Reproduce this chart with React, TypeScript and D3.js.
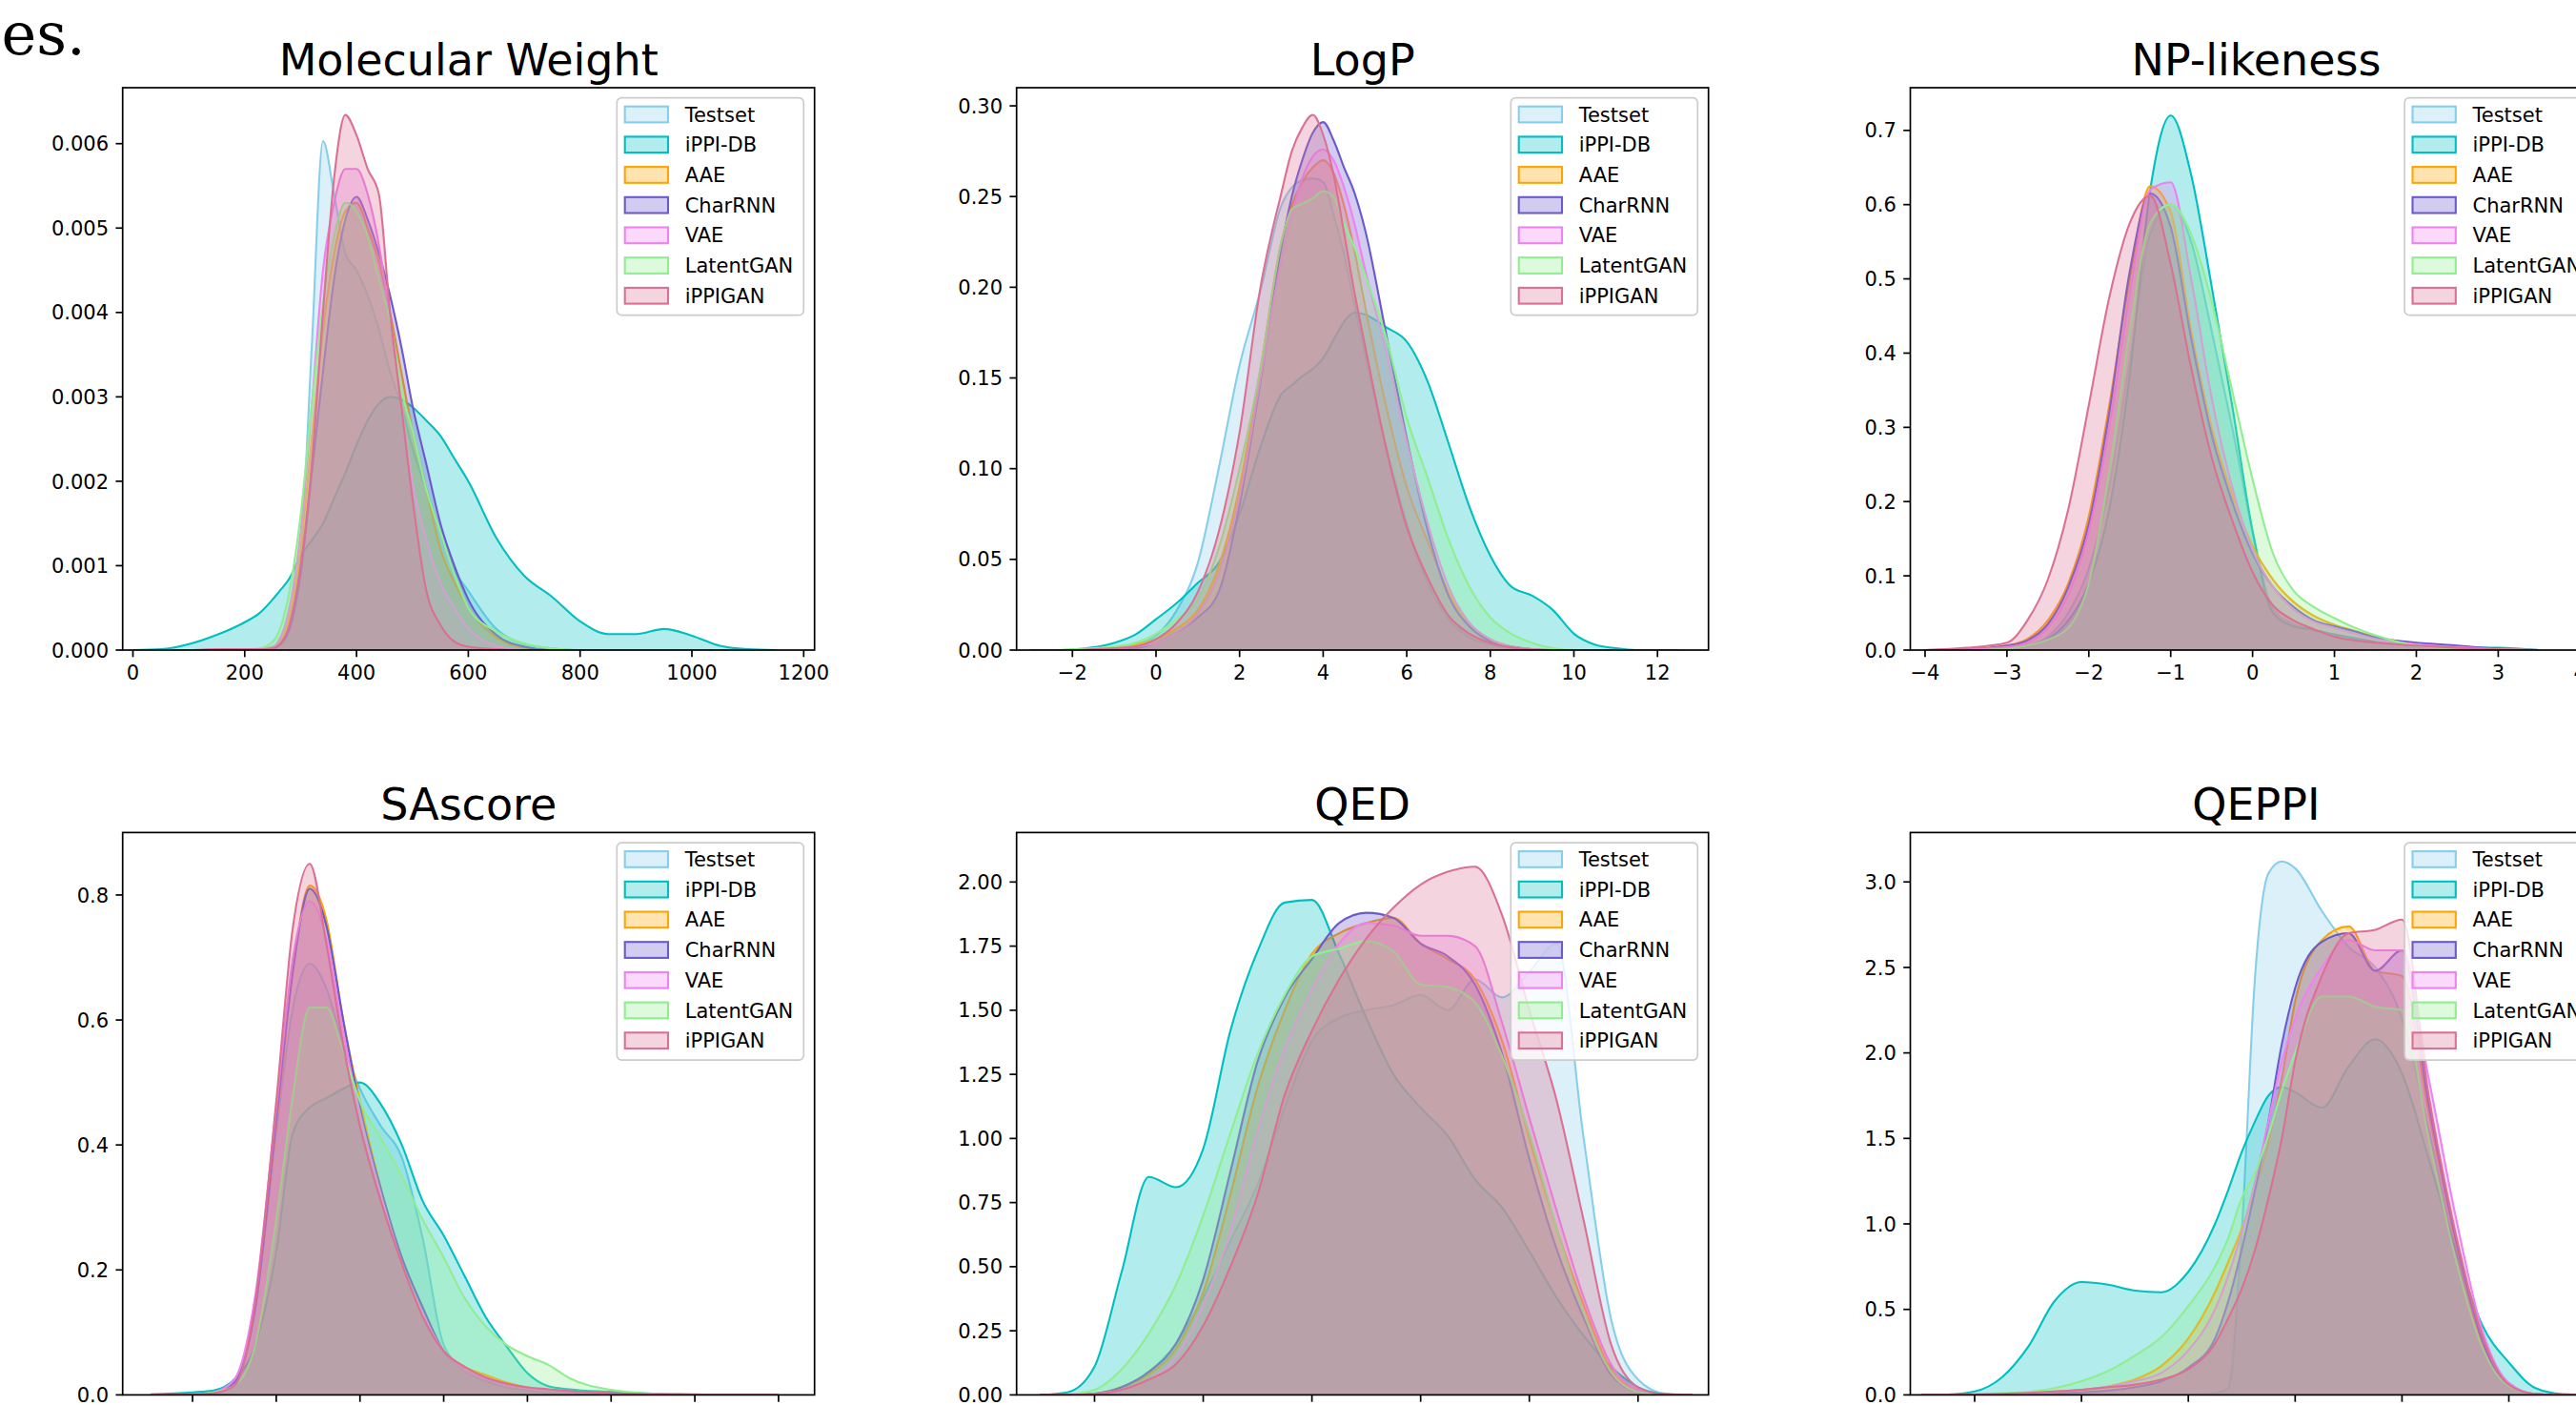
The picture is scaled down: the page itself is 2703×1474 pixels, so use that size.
import React from 'react';
import * as d3 from 'd3';

// ---------- series ----------
const SERIES = ['Testset', 'iPPI-DB', 'AAE', 'CharRNN', 'VAE', 'LatentGAN', 'iPPIGAN'];
const COLORS = ['#87ceeb', '#00bfbf', '#ffa500', '#6a5acd', '#ee82ee', '#90ee90', '#db7093'];

// ---------- Molecular Weight ----------
const mwGrid = [0, 50, 100, 150, 200, 225, 250, 260, 280, 300, 320, 340, 360, 380, 400, 420, 440, 460, 480, 500, 525, 550, 575, 600, 650, 700, 750, 800, 850, 900, 950, 1000, 1050, 1100, 1150];
const mwTestset = [0, 0, 0, 0, 0, 0.00001, 0.00004, 0.00008, 0.0003, 0.0011, 0.0036, 0.00603, 0.0054, 0.0047, 0.0045, 0.0042, 0.0038, 0.0033, 0.0029, 0.0024, 0.0019, 0.0014, 0.00095, 0.0007, 0.00025, 0.00007, 0.00002, 0, 0, 0, 0, 0, 0, 0, 0];
const mwIppidb = [0, 0.00001, 0.00007, 0.00018, 0.00033, 0.00043, 0.0006, 0.00068, 0.00085, 0.00112, 0.0013, 0.0015, 0.0018, 0.0021, 0.00243, 0.00272, 0.00292, 0.003, 0.00297, 0.00288, 0.00272, 0.00254, 0.00227, 0.002, 0.00133, 0.00088, 0.00063, 0.00034, 0.00019, 0.00019, 0.00025, 0.00017, 0.00005, 0.00001, 0];
const mwAae = [0, 0, 0, 0, 0, 0.00001, 0.00003, 0.00008, 0.0004, 0.0012, 0.0025, 0.0038, 0.0047, 0.0052, 0.0053, 0.005, 0.0046, 0.004, 0.0033, 0.0026, 0.0019, 0.0012, 0.0008, 0.0005, 0.00015, 0.00003, 0, 0, 0, 0, 0, 0, 0, 0, 0];
const mwCharrnn = [0, 0, 0, 0, 0, 0, 0.00002, 0.00005, 0.00025, 0.0009, 0.0021, 0.0033, 0.0044, 0.0051, 0.00537, 0.0051, 0.0047, 0.0042, 0.0036, 0.0029, 0.0022, 0.0015, 0.001, 0.0006, 0.00018, 0.00004, 0, 0, 0, 0, 0, 0, 0, 0, 0];
const mwVae = [0, 0, 0, 0, 0, 0.00001, 0.00003, 0.0001, 0.0005, 0.0014, 0.0029, 0.0045, 0.0053, 0.0057, 0.0057, 0.0054, 0.0048, 0.0039, 0.0029, 0.002, 0.0013, 0.0008, 0.0005, 0.00026, 0.00005, 0, 0, 0, 0, 0, 0, 0, 0, 0, 0];
const mwLatentgan = [0, 0, 0, 0, 0.00001, 0.00002, 0.0001, 0.0002, 0.0007, 0.0016, 0.0029, 0.0041, 0.0049, 0.0053, 0.0052, 0.0049, 0.0044, 0.0039, 0.0031, 0.0026, 0.0019, 0.0014, 0.0009, 0.0005, 0.00022, 0.00008, 0.00002, 0, 0, 0, 0, 0, 0, 0, 0];
const mwIppigan = [0, 0, 0, 0.00001, 0.00001, 0.00001, 0.00002, 0.00005, 0.0003, 0.001, 0.0022, 0.004, 0.0056, 0.00634, 0.0061, 0.0057, 0.0054, 0.004, 0.0029, 0.0018, 0.0007, 0.0003, 0.0001, 0.00004, 0.00001, 0, 0, 0, 0, 0, 0, 0, 0, 0, 0];

// ---------- LogP ----------
const logpGrid = [-3, -2.5, -2, -1.5, -1, -0.5, 0, 0.5, 1, 1.5, 2, 2.5, 3, 3.25, 3.5, 3.75, 4, 4.25, 4.5, 4.75, 5, 5.5, 6, 6.5, 7, 7.5, 8, 8.5, 9, 9.5, 10, 10.5, 11, 11.5, 12, 12.5];
const logpTestset = [0, 0, 0, 0.0003, 0.001, 0.003, 0.008, 0.022, 0.048, 0.1, 0.157, 0.198, 0.245, 0.255, 0.259, 0.26, 0.258, 0.24, 0.218, 0.19, 0.163, 0.113, 0.07, 0.037, 0.017, 0.007, 0.003, 0.001, 0, 0, 0, 0, 0, 0, 0, 0];
const logpIppidb = [0, 0, 0.0003, 0.0015, 0.004, 0.0085, 0.017, 0.026, 0.037, 0.048, 0.075, 0.112, 0.141, 0.146, 0.151, 0.155, 0.161, 0.171, 0.181, 0.186, 0.185, 0.178, 0.17, 0.148, 0.114, 0.079, 0.052, 0.035, 0.03, 0.022, 0.009, 0.003, 0.001, 0, 0, 0];
const logpAae = [0, 0, 0, 0.0005, 0.001, 0.003, 0.006, 0.012, 0.022, 0.046, 0.09, 0.155, 0.225, 0.245, 0.258, 0.266, 0.27, 0.263, 0.245, 0.22, 0.19, 0.135, 0.09, 0.06, 0.032, 0.014, 0.006, 0.002, 0.0005, 0, 0, 0, 0, 0, 0, 0];
const logpCharrnn = [0, 0, 0, 0, 0.0005, 0.001, 0.004, 0.01, 0.018, 0.032, 0.08, 0.148, 0.222, 0.25, 0.27, 0.285, 0.291, 0.281, 0.266, 0.252, 0.232, 0.175, 0.117, 0.066, 0.03, 0.013, 0.005, 0.002, 0.0005, 0, 0, 0, 0, 0, 0, 0];
const logpVae = [0, 0, 0, 0.0003, 0.001, 0.002, 0.004, 0.01, 0.02, 0.042, 0.085, 0.15, 0.215, 0.24, 0.26, 0.272, 0.276, 0.27, 0.255, 0.235, 0.21, 0.165, 0.115, 0.07, 0.035, 0.015, 0.006, 0.002, 0.0005, 0, 0, 0, 0, 0, 0, 0];
const logpLatentgan = [0, 0, 0.0005, 0.001, 0.002, 0.004, 0.009, 0.017, 0.028, 0.056, 0.1, 0.155, 0.225, 0.243, 0.246, 0.249, 0.253, 0.25, 0.235, 0.222, 0.207, 0.173, 0.128, 0.095, 0.061, 0.035, 0.018, 0.009, 0.004, 0.001, 0, 0, 0, 0, 0, 0];
const logpIppigan = [0, 0, 0, 0.0005, 0.001, 0.002, 0.006, 0.015, 0.032, 0.065, 0.12, 0.2, 0.252, 0.275, 0.288, 0.295, 0.284, 0.262, 0.23, 0.197, 0.168, 0.112, 0.068, 0.04, 0.019, 0.009, 0.004, 0.0015, 0.0003, 0, 0, 0, 0, 0, 0, 0];

// ---------- NP-likeness ----------
const npGrid = [-4, -3.5, -3, -2.75, -2.5, -2.25, -2, -1.75, -1.5, -1.25, -1, -0.75, -0.5, -0.25, 0, 0.25, 0.5, 0.75, 1, 1.25, 1.5, 2, 2.5, 3, 3.5];
const npTestset = [0, 0, 0.002, 0.006, 0.018, 0.05, 0.11, 0.22, 0.39, 0.56, 0.6, 0.55, 0.43, 0.3, 0.16, 0.055, 0.035, 0.027, 0.02, 0.015, 0.011, 0.006, 0.003, 0.001, 0];
const npIppidb = [0, 0, 0.002, 0.006, 0.015, 0.04, 0.09, 0.19, 0.37, 0.62, 0.72, 0.64, 0.49, 0.33, 0.16, 0.05, 0.032, 0.027, 0.021, 0.016, 0.011, 0.006, 0.004, 0.003, 0];
const npAae = [0, 0.001, 0.006, 0.015, 0.04, 0.09, 0.18, 0.33, 0.5, 0.625, 0.59, 0.43, 0.3, 0.21, 0.14, 0.095, 0.065, 0.046, 0.034, 0.026, 0.018, 0.009, 0.004, 0.001, 0];
const npCharrnn = [0, 0.001, 0.006, 0.013, 0.035, 0.085, 0.17, 0.32, 0.51, 0.615, 0.57, 0.42, 0.29, 0.2, 0.13, 0.085, 0.058, 0.04, 0.032, 0.025, 0.017, 0.01, 0.006, 0.002, 0];
const npVae = [0, 0.001, 0.004, 0.01, 0.03, 0.075, 0.16, 0.3, 0.48, 0.62, 0.63, 0.5, 0.34, 0.22, 0.135, 0.085, 0.055, 0.038, 0.03, 0.022, 0.015, 0.008, 0.004, 0.001, 0];
const npLatentgan = [0, 0, 0.002, 0.006, 0.014, 0.03, 0.09, 0.24, 0.43, 0.575, 0.6, 0.56, 0.47, 0.35, 0.23, 0.13, 0.08, 0.058, 0.043, 0.03, 0.02, 0.006, 0.002, 0.001, 0];
const npIppigan = [0, 0.003, 0.01, 0.04, 0.095, 0.19, 0.33, 0.475, 0.575, 0.612, 0.52, 0.38, 0.26, 0.175, 0.105, 0.06, 0.04, 0.028, 0.018, 0.013, 0.01, 0.006, 0.003, 0.001, 0];

// ---------- SAscore ----------
const saGrid = [0.5, 1, 1.25, 1.5, 1.75, 2, 2.2, 2.4, 2.6, 2.8, 3, 3.25, 3.5, 3.75, 4, 4.25, 4.5, 4.75, 5, 5.25, 5.5, 6, 6.5, 7, 7.5, 8];
const saTestset = [0, 0.001, 0.003, 0.02, 0.14, 0.42, 0.62, 0.69, 0.65, 0.56, 0.49, 0.43, 0.38, 0.25, 0.08, 0.04, 0.022, 0.012, 0.007, 0.004, 0.003, 0.001, 0, 0, 0, 0];
const saIppidb = [0.001, 0.004, 0.007, 0.025, 0.08, 0.23, 0.42, 0.46, 0.475, 0.49, 0.5, 0.465, 0.4, 0.31, 0.255, 0.19, 0.125, 0.078, 0.035, 0.014, 0.009, 0.005, 0.002, 0.001, 0, 0];
const saAae = [0, 0.001, 0.003, 0.02, 0.14, 0.43, 0.68, 0.815, 0.76, 0.6, 0.47, 0.33, 0.21, 0.13, 0.07, 0.045, 0.032, 0.02, 0.012, 0.008, 0.005, 0.002, 0.001, 0, 0, 0];
const saCharrnn = [0, 0.001, 0.003, 0.02, 0.14, 0.44, 0.68, 0.81, 0.75, 0.6, 0.46, 0.33, 0.22, 0.14, 0.07, 0.04, 0.025, 0.016, 0.01, 0.008, 0.006, 0.003, 0.001, 0, 0, 0];
const saVae = [0, 0.001, 0.004, 0.025, 0.16, 0.46, 0.7, 0.79, 0.73, 0.58, 0.45, 0.32, 0.21, 0.13, 0.07, 0.04, 0.025, 0.015, 0.01, 0.007, 0.005, 0.002, 0.001, 0, 0, 0];
const saLatentgan = [0, 0.001, 0.004, 0.015, 0.08, 0.28, 0.48, 0.62, 0.62, 0.55, 0.47, 0.41, 0.35, 0.28, 0.22, 0.155, 0.11, 0.08, 0.062, 0.048, 0.027, 0.008, 0.002, 0, 0, 0];
const saIppigan = [0, 0.001, 0.003, 0.015, 0.15, 0.47, 0.75, 0.85, 0.72, 0.56, 0.43, 0.31, 0.21, 0.125, 0.07, 0.045, 0.028, 0.018, 0.012, 0.009, 0.006, 0.003, 0.001, 0, 0, 0];

// ---------- QED ----------
const qedGrid = [-0.1, -0.05, 0, 0.05, 0.1, 0.15, 0.2, 0.25, 0.3, 0.35, 0.4, 0.45, 0.5, 0.55, 0.6, 0.65, 0.7, 0.75, 0.8, 0.85, 0.9, 0.95, 1, 1.05, 1.1];
const qedTestset = [0, 0, 0.005, 0.03, 0.09, 0.2, 0.38, 0.6, 0.82, 1.12, 1.38, 1.47, 1.5, 1.52, 1.56, 1.5, 1.62, 1.55, 1.65, 1.76, 1.0, 0.3, 0.06, 0.005, 0];
const qedIppidb = [0, 0.01, 0.11, 0.48, 0.85, 0.81, 0.96, 1.42, 1.73, 1.92, 1.93, 1.72, 1.47, 1.25, 1.12, 1.01, 0.84, 0.73, 0.56, 0.38, 0.23, 0.11, 0.03, 0.003, 0];
const qedAae = [0, 0, 0.005, 0.03, 0.08, 0.18, 0.4, 0.78, 1.2, 1.5, 1.72, 1.8, 1.84, 1.86, 1.76, 1.7, 1.62, 1.38, 1.0, 0.65, 0.35, 0.1, 0.015, 0, 0];
const qedCharrnn = [0, 0, 0.005, 0.03, 0.09, 0.2, 0.45, 0.87, 1.3, 1.55, 1.7, 1.84, 1.88, 1.86, 1.76, 1.71, 1.6, 1.33, 0.92, 0.57, 0.3, 0.08, 0.012, 0, 0];
const qedVae = [0, 0, 0.004, 0.02, 0.06, 0.15, 0.35, 0.64, 1.03, 1.35, 1.58, 1.76, 1.84, 1.83, 1.79, 1.79, 1.75, 1.45, 1.08, 0.72, 0.38, 0.12, 0.02, 0, 0];
const qedLatentgan = [0, 0.002, 0.02, 0.1, 0.24, 0.43, 0.7, 1.02, 1.33, 1.56, 1.71, 1.74, 1.77, 1.73, 1.6, 1.59, 1.53, 1.32, 1.02, 0.65, 0.32, 0.09, 0.012, 0, 0];
const qedIppigan = [0, 0, 0.003, 0.02, 0.06, 0.12, 0.27, 0.5, 0.78, 1.17, 1.42, 1.62, 1.78, 1.9, 1.99, 2.04, 2.06, 1.87, 1.5, 1.15, 0.68, 0.2, 0.03, 0.002, 0];

// ---------- QEPPI ----------
const qeppiGrid = [-0.1, -0.05, 0, 0.05, 0.1, 0.15, 0.2, 0.25, 0.3, 0.35, 0.4, 0.45, 0.475, 0.5, 0.525, 0.55, 0.575, 0.6, 0.65, 0.7, 0.75, 0.8, 0.85, 0.9, 0.95, 1, 1.05, 1.1, 1.15];
const qeppiTestset = [0, 0, 0, 0, 0, 0, 0, 0, 0, 0, 0, 0.01, 0.04, 0.95, 2.45, 3.05, 3.12, 3.08, 2.83, 2.62, 2.5, 2.2, 1.55, 0.85, 0.32, 0.07, 0.005, 0, 0];
const qeppiIppidb = [0, 0.002, 0.02, 0.1, 0.28, 0.55, 0.66, 0.645, 0.61, 0.6, 0.72, 1.0, 1.2, 1.42, 1.6, 1.75, 1.8, 1.77, 1.68, 1.92, 2.08, 1.88, 1.38, 0.85, 0.41, 0.19, 0.04, 0.005, 0];
const qeppiAae = [0, 0, 0.002, 0.006, 0.012, 0.02, 0.03, 0.05, 0.09, 0.17, 0.33, 0.6, 0.78, 0.97, 1.2, 1.48, 1.85, 2.3, 2.66, 2.74, 2.48, 2.45, 1.65, 0.9, 0.3, 0.05, 0.005, 0, 0];
const qeppiCharrnn = [0, 0, 0, 0.002, 0.005, 0.01, 0.015, 0.025, 0.045, 0.08, 0.16, 0.33, 0.55, 0.85, 1.2, 1.6, 2.05, 2.38, 2.65, 2.7, 2.48, 2.6, 1.7, 0.92, 0.32, 0.05, 0.005, 0, 0];
const qeppiVae = [0, 0, 0.002, 0.005, 0.01, 0.018, 0.03, 0.05, 0.08, 0.13, 0.26, 0.5, 0.7, 0.95, 1.25, 1.6, 1.95, 2.2, 2.5, 2.66, 2.6, 2.6, 1.85, 1.05, 0.38, 0.07, 0.005, 0, 0];
const qeppiLatentgan = [0, 0, 0.003, 0.01, 0.018, 0.04, 0.08, 0.14, 0.23, 0.34, 0.52, 0.75, 0.92, 1.15, 1.3, 1.52, 1.78, 2.0, 2.33, 2.33, 2.27, 2.25, 1.5, 0.8, 0.28, 0.05, 0.004, 0, 0];
const qeppiIppigan = [0, 0, 0.002, 0.006, 0.012, 0.02, 0.03, 0.045, 0.06, 0.09, 0.15, 0.3, 0.45, 0.62, 0.85, 1.15, 1.5, 1.95, 2.45, 2.7, 2.72, 2.78, 1.75, 0.95, 0.35, 0.06, 0.005, 0, 0];

// ---------- ticks ----------
const mwXTicks = [0, 200, 400, 600, 800, 1000, 1200];
const mwYTicks = [0, 0.001, 0.002, 0.003, 0.004, 0.005, 0.006];
const logpXTicks = [-2, 0, 2, 4, 6, 8, 10, 12];
const logpYTicks = [0, 0.05, 0.1, 0.15, 0.2, 0.25, 0.3];
const npXTicks = [-4, -3, -2, -1, 0, 1, 2, 3, 4];
const npYTicks = [0, 0.1, 0.2, 0.3, 0.4, 0.5, 0.6, 0.7];
const saXTicks = [1, 2, 3, 4, 5, 6, 7, 8];
const saYTicks = [0, 0.2, 0.4, 0.6, 0.8];
const qedXTicks = [0, 0.2, 0.4, 0.6, 0.8, 1.0];
const qedYTicks = [0, 0.25, 0.5, 0.75, 1.0, 1.25, 1.5, 1.75, 2.0];
const qeppiXTicks = [0, 0.2, 0.4, 0.6, 0.8, 1.0];
const qeppiYTicks = [0, 0.5, 1.0, 1.5, 2.0, 2.5, 3.0];

// ---------- layout ----------
const W = 2703;
const H = 1474;
const AX_W = 726;
const AX_H = 590;
const COL_X = [128.7, 1066.7, 2004.5];
const ROW_Y = [92, 873.4];
const FONT = 'DejaVu Sans, sans-serif';

interface PanelDef {
  title: string;
  grid: number[];
  values: number[][];
  xDomain: [number, number];
  yMax: number;
  xTicks: number[];
  xFmt: string;
  yTicks: number[];
  yFmt: string;
  col: number;
  row: number;
}

const PANELS: PanelDef[] = [
  { title: 'Molecular Weight', grid: mwGrid, values: [mwTestset, mwIppidb, mwAae, mwCharrnn, mwVae, mwLatentgan, mwIppigan], xDomain: [-18.4, 1219.4], yMax: 0.006663, xTicks: mwXTicks, xFmt: 'd', yTicks: mwYTicks, yFmt: '.3f', col: 0, row: 0 },
  { title: 'LogP', grid: logpGrid, values: [logpTestset, logpIppidb, logpAae, logpCharrnn, logpVae, logpLatentgan, logpIppigan], xDomain: [-3.336, 13.22], yMax: 0.31, xTicks: logpXTicks, xFmt: 'd', yTicks: logpYTicks, yFmt: '.2f', col: 1, row: 0 },
  { title: 'NP-likeness', grid: npGrid, values: [npTestset, npIppidb, npAae, npCharrnn, npVae, npLatentgan, npIppigan], xDomain: [-4.18, 4.27], yMax: 0.7575, xTicks: npXTicks, xFmt: 'd', yTicks: npYTicks, yFmt: '.1f', col: 2, row: 0 },
  { title: 'SAscore', grid: saGrid, values: [saTestset, saIppidb, saAae, saCharrnn, saVae, saLatentgan, saIppigan], xDomain: [0.165, 8.43], yMax: 0.9, xTicks: saXTicks, xFmt: 'd', yTicks: saYTicks, yFmt: '.1f', col: 0, row: 1 },
  { title: 'QED', grid: qedGrid, values: [qedTestset, qedIppidb, qedAae, qedCharrnn, qedVae, qedLatentgan, qedIppigan], xDomain: [-0.1434, 1.1296], yMax: 2.193, xTicks: qedXTicks, xFmt: '.1f', yTicks: qedYTicks, yFmt: '.2f', col: 1, row: 1 },
  { title: 'QEPPI', grid: qeppiGrid, values: [qeppiTestset, qeppiIppidb, qeppiAae, qeppiCharrnn, qeppiVae, qeppiLatentgan, qeppiIppigan], xDomain: [-0.1204, 1.1748], yMax: 3.289, xTicks: qeppiXTicks, xFmt: '.1f', yTicks: qeppiYTicks, yFmt: '.1f', col: 2, row: 1 },
];

function Panel({ p, idx }: { p: PanelDef; idx: number }) {
  const left = COL_X[p.col];
  const top = ROW_Y[p.row];
  const x = d3.scaleLinear().domain(p.xDomain).range([left, left + AX_W]);
  const y = d3.scaleLinear().domain([0, p.yMax]).range([top + AX_H, top]);
  const area = d3
    .area<number>()
    .x((_, i) => x(p.grid[i]))
    .y0(y(0))
    .y1((d) => y(d))
    .curve(d3.curveMonotoneX);
  const line = d3
    .line<number>()
    .x((_, i) => x(p.grid[i]))
    .y((d) => y(d))
    .curve(d3.curveMonotoneX);
  const xf = d3.format(p.xFmt);
  const yf = d3.format(p.yFmt);
  const bottom = top + AX_H;
  const right = left + AX_W;
  const clipId = `clip-${idx}`;

  const legW = 196;
  const legH = 228;
  const legX = right - 11.4 - legW;
  const legY = top + 10.7;

  return (
    <g>
      <defs>
        <clipPath id={clipId}>
          <rect x={left} y={top} width={AX_W} height={AX_H} />
        </clipPath>
      </defs>
      <g clipPath={`url(#${clipId})`}>
        {p.values.map((vals, si) => (
          <g key={si}>
            <path d={area(vals) || ''} fill={COLORS[si]} fillOpacity={0.3} stroke="none" />
            <path d={line(vals) || ''} fill="none" stroke={COLORS[si]} strokeWidth={2.1} strokeLinejoin="round" />
          </g>
        ))}
      </g>
      <rect x={left} y={top} width={AX_W} height={AX_H} fill="none" stroke="#000" strokeWidth={1.7} />
      {p.xTicks.map((t) => (
        <g key={`xt${t}`}>
          <line x1={x(t)} x2={x(t)} y1={bottom} y2={bottom + 7.3} stroke="#000" strokeWidth={1.7} />
          <text x={x(t)} y={bottom + 30.7} textAnchor="middle" fontFamily={FONT} fontSize={21} fill="#000">
            {xf(t)}
          </text>
        </g>
      ))}
      {p.yTicks.map((t) => (
        <g key={`yt${t}`}>
          <line x1={left - 7.3} x2={left} y1={y(t)} y2={y(t)} stroke="#000" strokeWidth={1.7} />
          <text x={left - 14.6} y={y(t) + 7.6} textAnchor="end" fontFamily={FONT} fontSize={21} fill="#000">
            {yf(t)}
          </text>
        </g>
      ))}
      <text x={left + AX_W / 2} y={top - 13.5} textAnchor="middle" fontFamily={FONT} fontSize={46} fill="#000">
        {p.title}
      </text>
      <g>
        <rect x={legX} y={legY} width={legW} height={legH} rx={5} ry={5} fill="#fff" fillOpacity={0.8} stroke="#cccccc" strokeWidth={1.7} />
        {SERIES.map((s, si) => {
          const cy = legY + 17.3 + si * 31.7;
          return (
            <g key={s}>
              <rect x={legX + 8.4} y={cy - 8.3} width={45.3} height={16.7} fill={COLORS[si]} fillOpacity={0.3} stroke={COLORS[si]} strokeWidth={2.1} />
              <text x={legX + 71.4} y={cy + 7.6} fontFamily={FONT} fontSize={21} fill="#000">
                {s}
              </text>
            </g>
          );
        })}
      </g>
    </g>
  );
}

export default function App() {
  return (
    <svg
      width={W}
      height={H}
      viewBox={`0 0 ${W} ${H}`}
      style={{ position: 'fixed', left: 0, top: 0, background: '#fff', overflow: 'hidden' }}
    >
      <rect x={0} y={0} width={W} height={H} fill="#fff" />
      <text x={1.6} y={56.7} fontFamily="DejaVu Serif" fontSize={62} fill="#000">
        es.
      </text>
      {PANELS.map((p, i) => (
        <Panel key={p.title} p={p} idx={i} />
      ))}
    </svg>
  );
}
